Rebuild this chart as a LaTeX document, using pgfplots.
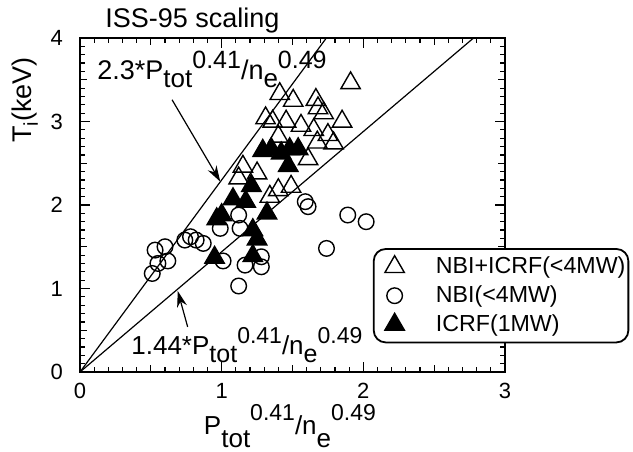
\documentclass[border=0pt]{standalone}
\usepackage{fontspec}
\setmainfont{Liberation Sans}
\usepackage{pgfplots}
\pgfplotsset{compat=1.18}
\usetikzlibrary{arrows.meta}
\newcommand\lo[3]{\raisebox{-#1}{\fontsize{#2}{#2}\selectfont #3}}
\newcommand\hi[3]{\raisebox{#1}{\fontsize{#2}{#2}\selectfont #3}}
\begin{document}
\begin{tikzpicture}
\begin{axis}[
  scale only axis, width=212.5pt, height=167pt,
  xmin=0, xmax=3, ymin=0, ymax=4,
  xtick={0,1,2,3}, ytick={0,1,2,3,4},
  minor tick num=9,
  extra x ticks={0.5,1.5,2.5}, extra y ticks={0.5,1.5,2.5,3.5},
  extra x tick labels={}, extra y tick labels={},
  extra tick style={major tick length=3.5pt},
  major tick length=5pt, minor tick length=2.5pt,
  tick style={black, line width=0.6pt},
  axis line style={line width=1pt},
  tick label style={font=\fontsize{11}{12}\selectfont},
  /pgf/number format/assume math mode=true,
  xticklabel style={yshift=-2pt}, yticklabel style={xshift=-5pt},
  clip=false,
  legend cell align=left,
  legend image code/.code={%
    \path[draw=none, fill=none] (0cm,0cm) rectangle (1.04cm,0.01cm);
    \draw[#1] plot coordinates {(0.35cm,0cm)};},
  legend style={at={(rel axis cs:0.689,0.371)}, anchor=north west,
    draw=black, line width=0.9pt, rounded corners=6pt,
    font=\fontsize{11.6}{13}\selectfont,
    inner xsep=0.5pt, inner ysep=2.5pt, row sep=1.5pt,
    nodes={inner ysep=1.5pt, inner xsep=1pt}},
]
\addplot[black, line width=0.6pt, forget plot] coordinates {(0,0) (1.739,4)};
\addplot[black, line width=0.6pt, forget plot] coordinates {(0,0) (2.778,4)};

\addplot[only marks, mark=triangle, mark size=5.6pt, mark options={black, line width=0.7pt, solid}] coordinates {
(1.91,3.46) (1.41,3.33) (1.505,3.25) (1.665,3.26) (1.68,3.16) (1.31,3.04)
(1.36,3.00) (1.455,3.00) (1.72,3.10) (1.85,3.00) (1.56,2.95) (1.65,2.90)
(1.40,2.82) (1.75,2.84) (1.675,2.75) (1.79,2.74) (1.61,2.55) (1.15,2.46)
(1.25,2.38) (1.12,2.32) (1.40,2.18) (1.49,2.22) (1.34,2.10)
};
\addlegendentry{NBI+ICRF(<4MW)}

\addplot[only marks, mark=o, mark size=3.9pt, mark options={black, line width=0.7pt}] coordinates {
(0.51,1.18) (0.53,1.46) (0.55,1.30) (0.60,1.50) (0.62,1.33) (0.74,1.58)
(0.82,1.58) (0.87,1.54) (0.78,1.62) (0.99,1.72) (1.13,1.72) (1.12,1.88)
(1.01,1.33) (1.165,1.28) (1.28,1.38) (1.28,1.26) (1.12,1.03) (1.59,2.04)
(1.61,1.98) (1.89,1.88) (2.02,1.80) (1.74,1.48)
};
\addlegendentry{NBI(<4MW)}

\addplot[only marks, mark=triangle*, mark size=5.6pt, mark options={black, fill=black, line width=0.7pt}] coordinates {
(0.95,1.37) (0.965,1.83) (1.0,1.88) (1.08,2.07) (1.17,2.04) (1.21,2.23)
(1.22,1.39) (1.25,1.59) (1.22,1.70) (1.32,1.90) (1.29,2.65) (1.35,2.67)
(1.42,2.62) (1.48,2.67) (1.54,2.67) (1.47,2.47)
};
\addlegendentry{ICRF(1MW)}

\draw[line width=0.6pt, -{Stealth[length=8pt,width=5pt]}] (axis cs:0.65,3.26) -- (axis cs:0.99,2.28);
\draw[line width=0.6pt, -{Stealth[length=8pt,width=5pt]}] (axis cs:0.76,0.54) -- (axis cs:0.69,0.97);

\node[anchor=base west, inner sep=0pt, font=\fontsize{13.5}{15}\selectfont] at (axis cs:0.12,3.50)
  {2.3*P\lo{4pt}{13}{tot}\hi{5.5pt}{12.5}{0.41}/n\lo{4pt}{13}{e}\hi{5.5pt}{12.5}{0.49}};
\node[anchor=base west, inner sep=0pt, font=\fontsize{13}{15}\selectfont] at (axis cs:0.36,0.204)
  {1.44*P\lo{4pt}{12.5}{tot}\hi{5.5pt}{11.5}{0.41}/n\lo{4pt}{12.5}{e}\hi{5.5pt}{11.5}{0.49}};

\node[anchor=base west, inner sep=0pt, font=\fontsize{13.5}{15}\selectfont] at (axis cs:0.176,4.12) {ISS-95 scaling};

\node[anchor=base, inner sep=0pt, font=\fontsize{13}{15}\selectfont] at (rel axis cs:0.494,0) [yshift=-31pt]
  {P\lo{6.5pt}{13}{tot}\hi{7pt}{11.5}{0.41}/n\lo{6.5pt}{13}{e}\hi{7pt}{11.5}{0.49}};

\node[rotate=90, anchor=center, inner sep=0pt, font=\fontsize{13.5}{15}\selectfont] at (rel axis cs:-0.129,0.814)
  {T\lo{3pt}{10}{i}(keV)};
\end{axis}
\pgfresetboundingbox
\path (-40pt,-39.5pt) rectangle (276.5pt,186pt);
\end{tikzpicture}
\end{document}
